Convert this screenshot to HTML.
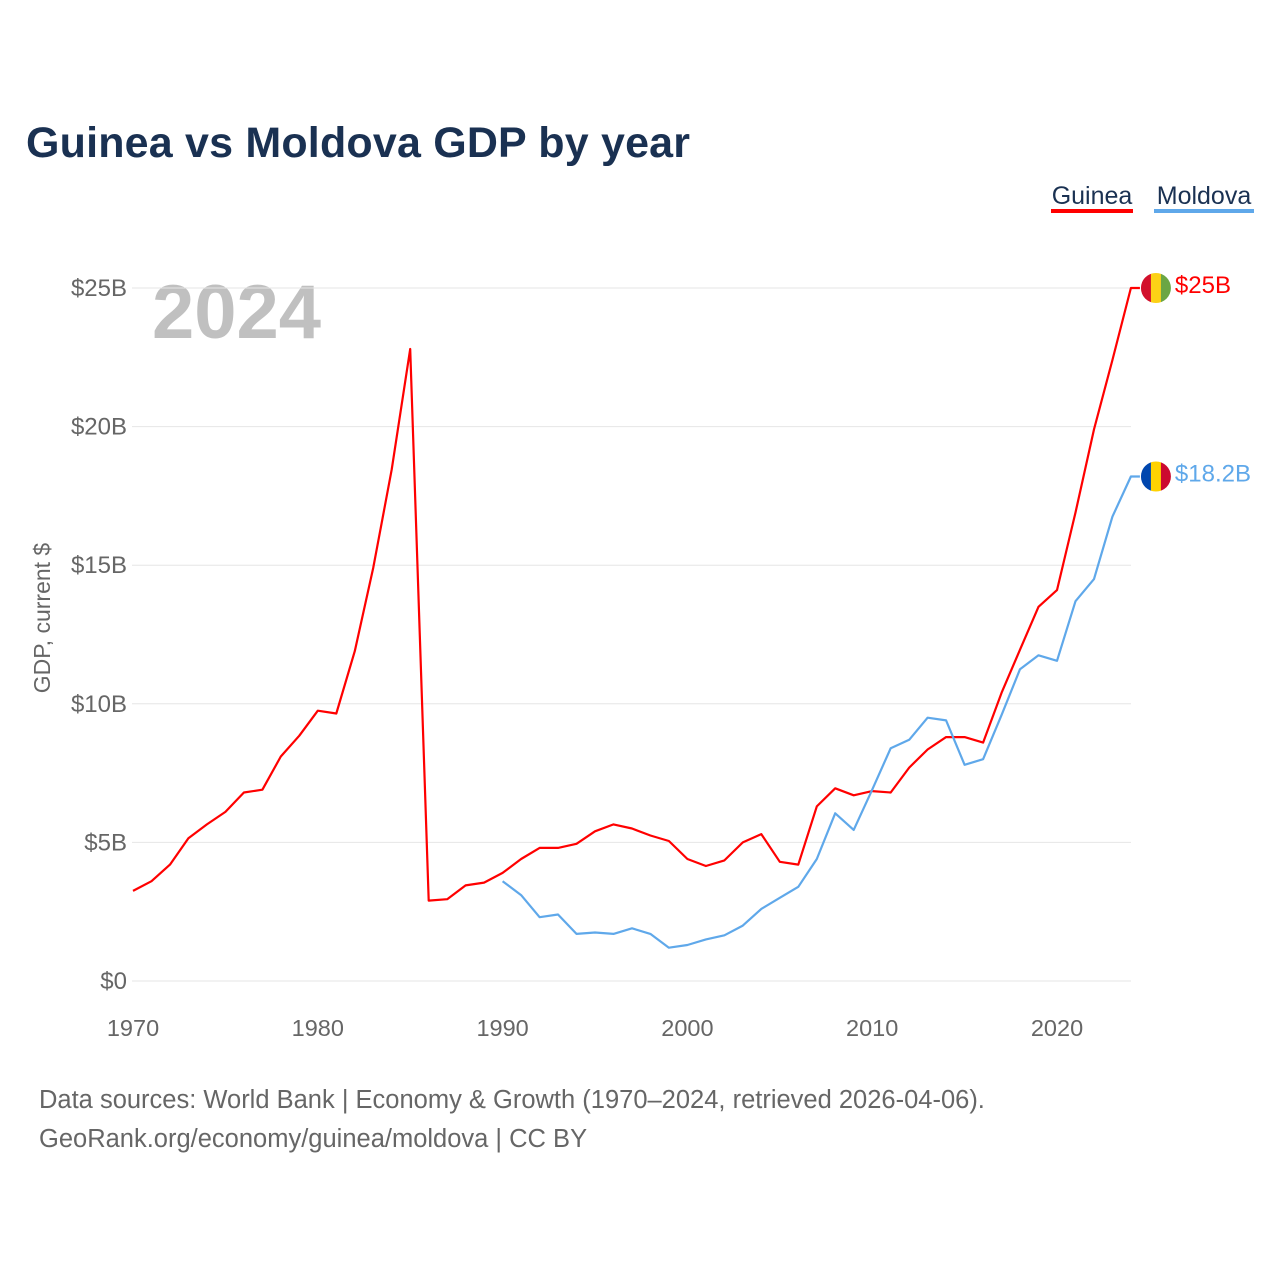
<!DOCTYPE html>
<html><head><meta charset="utf-8"><style>
body{margin:0;background:#fff;font-family:"Liberation Sans",sans-serif;}
svg{display:block}
</style></head><body>
<svg id="chart" width="1280" height="1280" xmlns="http://www.w3.org/2000/svg">
<text x="26" y="157" font-size="43" font-weight="bold" fill="#1a3152" textLength="664">Guinea vs Moldova GDP by year</text>
<g>
<text x="1092" y="204" font-size="25" fill="#1a3152" text-anchor="middle">Guinea</text>
<rect x="1051" y="209" width="82" height="4" fill="#ff0000"/>
<text x="1204" y="204" font-size="25" fill="#1a3152" text-anchor="middle">Moldova</text>
<rect x="1154" y="209" width="100" height="4" fill="#5fa8ea"/>
</g>
<text x="152" y="338" font-size="76" font-weight="bold" fill="#c0c0c0">2024</text>
<g id="grid"></g>
<g id="xt"></g>
<text transform="translate(50,618) rotate(-90)" font-size="23" fill="#666" text-anchor="middle">GDP, current $</text>
<g id="lines"></g>
<text x="39" y="1108" font-size="25.5" fill="#666">Data sources: World Bank | Economy &amp; Growth (1970–2024, retrieved 2026-04-06).</text>
<text x="39" y="1147" font-size="25.5" fill="#666">GeoRank.org/economy/guinea/moldova | CC BY</text>
</svg>
<script>
const guineaYears=[1970,1971,1972,1973,1974,1975,1976,1977,1978,1979,1980,1981,1982,1983,1984,1985,1986,1987,1988,1989,1990,1991,1992,1993,1994,1995,1996,1997,1998,1999,2000,2001,2002,2003,2004,2005,2006,2007,2008,2009,2010,2011,2012,2013,2014,2015,2016,2017,2018,2019,2020,2021,2022,2023,2024];
const guineaGDP=[3.25,3.6,4.2,5.15,5.65,6.1,6.8,6.9,8.1,8.85,9.75,9.65,11.9,14.9,18.45,22.8,2.9,2.95,3.45,3.55,3.9,4.4,4.8,4.8,4.95,5.4,5.65,5.5,5.25,5.05,4.4,4.15,4.35,5.0,5.3,4.3,4.2,6.3,6.95,6.7,6.85,6.8,7.7,8.35,8.8,8.8,8.6,10.4,11.95,13.5,14.1,16.9,19.9,22.4,25.0];
const moldovaYears=[1990,1991,1992,1993,1994,1995,1996,1997,1998,1999,2000,2001,2002,2003,2004,2005,2006,2007,2008,2009,2010,2011,2012,2013,2014,2015,2016,2017,2018,2019,2020,2021,2022,2023,2024];
const moldovaGDP=[3.6,3.1,2.3,2.4,1.7,1.75,1.7,1.9,1.7,1.2,1.3,1.5,1.65,2.0,2.6,3.0,3.4,4.4,6.05,5.45,6.9,8.4,8.7,9.5,9.4,7.8,8.0,9.6,11.25,11.75,11.55,13.7,14.5,16.75,18.2];
const yTicks=[0,5,10,15,20,25];
const yTickLabels=["$0","$5B","$10B","$15B","$20B","$25B"];
const xTicks=[1970,1980,1990,2000,2010,2020];
const guineaLabel="$25B", moldovaLabel="$18.2B";

const NS="http://www.w3.org/2000/svg";
const X=y=>133+(y-1970)*18.48;
const Y=v=>981-v*27.72;
function mk(t,a,p){const e=document.createElementNS(NS,t);for(const k in a)e.setAttribute(k,a[k]);p.appendChild(e);return e;}
const grid=document.getElementById('grid');
yTicks.forEach((v,i)=>{
 const l=mk('line',{x1:132,x2:1131,y1:Y(v),y2:Y(v),stroke:'#e6e6e6','stroke-width':1},grid);
 
 
 const t=mk('text',{x:127,y:Y(v)+8,'font-size':24,fill:'#666','text-anchor':'end'},grid);
 t.textContent=yTickLabels[i];
 
 
});
const xt=document.getElementById('xt');
xTicks.forEach(v=>{
 const t=mk('text',{x:X(v),y:1036,'font-size':23.5,fill:'#666','text-anchor':'middle'},xt);
 t.textContent=v;
 
 
});
const lines=document.getElementById('lines');
function series(yrs,vals,color,name,label,flag){
 let d=yrs.map((y,i)=>(i?'L':'M')+X(y).toFixed(1)+' '+Y(vals[i]).toFixed(1)).join(' ');
 const ly=Y(vals[vals.length-1]), lx=X(yrs[yrs.length-1]);
 d+=' L'+(lx+9)+' '+ly.toFixed(1);
 const p=mk('path',{d:d,fill:'none',stroke:color,'stroke-width':2.2,'stroke-linejoin':'round'},lines);
 
 
 const g=mk('g',{},lines);
 
 
 const cx=lx+25, r=15;
 const cp=mk('clipPath',{id:'c'+name},g);mk('circle',{cx:cx,cy:ly,r:r},cp);
 flag.forEach((c,i)=>mk('rect',{x:cx-r+i*10,y:ly-r,width:10.5,height:30,fill:c,'clip-path':'url(#c'+name+')'},g));
 const t=mk('text',{x:lx+44,y:ly+5,'font-size':24,fill:color},lines);
 t.textContent=label;
 
 
}
series(guineaYears,guineaGDP,'#ff0000','guinea',guineaLabel,['#d2102c','#fcd116','#6ba644']);
series(moldovaYears,moldovaGDP,'#5fa8ea','moldova',moldovaLabel,['#0046ae','#ffd200','#cc092f']);
</script>
</body></html>
